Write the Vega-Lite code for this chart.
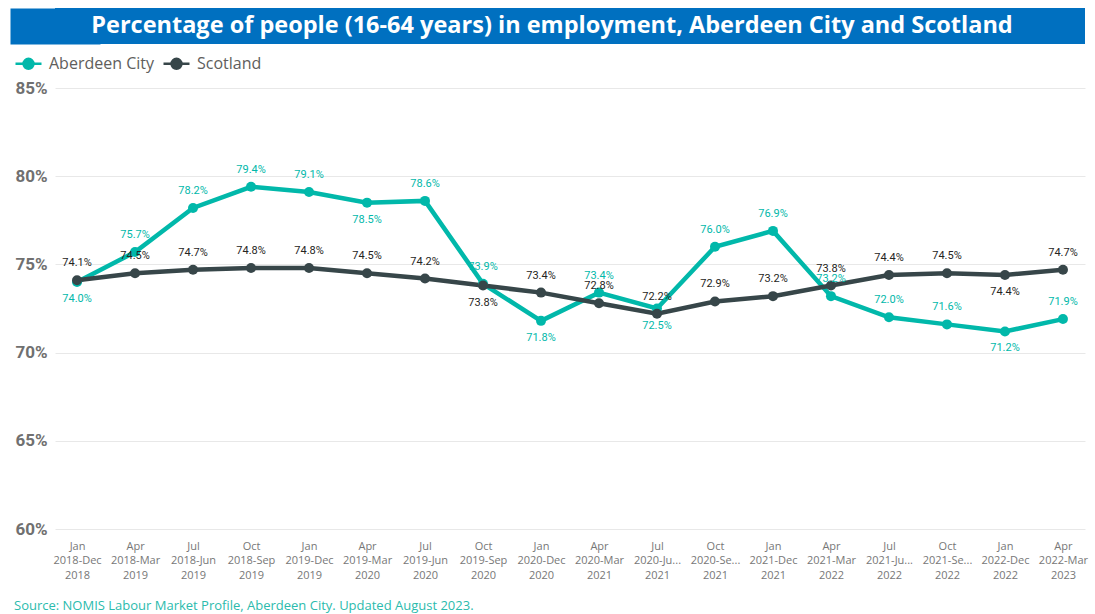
{
  "$schema": "https://vega.github.io/schema/vega-lite/v6.json",
  "padding": {"left": 10, "top": 8, "right": 5, "bottom": 0},
  "background": "white",
  "config": {"view": {"stroke": null}},
  "datasets": {
    "employment": [
      {"period": "Jan 2018-Dec 2018", "area": "Aberdeen City", "value": 74.0},
      {"period": "Apr 2018-Mar 2019", "area": "Aberdeen City", "value": 75.7},
      {"period": "Jul 2018-Jun 2019", "area": "Aberdeen City", "value": 78.2},
      {"period": "Oct 2018-Sep 2019", "area": "Aberdeen City", "value": 79.4},
      {"period": "Jan 2019-Dec 2019", "area": "Aberdeen City", "value": 79.1},
      {"period": "Apr 2019-Mar 2020", "area": "Aberdeen City", "value": 78.5},
      {"period": "Jul 2019-Jun 2020", "area": "Aberdeen City", "value": 78.6},
      {"period": "Oct 2019-Sep 2020", "area": "Aberdeen City", "value": 73.9},
      {"period": "Jan 2020-Dec 2020", "area": "Aberdeen City", "value": 71.8},
      {"period": "Apr 2020-Mar 2021", "area": "Aberdeen City", "value": 73.4},
      {"period": "Jul 2020-Ju... 2021", "area": "Aberdeen City", "value": 72.5},
      {"period": "Oct 2020-Se... 2021", "area": "Aberdeen City", "value": 76.0},
      {"period": "Jan 2021-Dec 2021", "area": "Aberdeen City", "value": 76.9},
      {"period": "Apr 2021-Mar 2022", "area": "Aberdeen City", "value": 73.2},
      {"period": "Jul 2021-Ju... 2022", "area": "Aberdeen City", "value": 72.0},
      {"period": "Oct 2021-Se... 2022", "area": "Aberdeen City", "value": 71.6},
      {"period": "Jan 2022-Dec 2022", "area": "Aberdeen City", "value": 71.2},
      {"period": "Apr 2022-Mar 2023", "area": "Aberdeen City", "value": 71.9},
      {"period": "Jan 2018-Dec 2018", "area": "Scotland", "value": 74.1},
      {"period": "Apr 2018-Mar 2019", "area": "Scotland", "value": 74.5},
      {"period": "Jul 2018-Jun 2019", "area": "Scotland", "value": 74.7},
      {"period": "Oct 2018-Sep 2019", "area": "Scotland", "value": 74.8},
      {"period": "Jan 2019-Dec 2019", "area": "Scotland", "value": 74.8},
      {"period": "Apr 2019-Mar 2020", "area": "Scotland", "value": 74.5},
      {"period": "Jul 2019-Jun 2020", "area": "Scotland", "value": 74.2},
      {"period": "Oct 2019-Sep 2020", "area": "Scotland", "value": 73.8},
      {"period": "Jan 2020-Dec 2020", "area": "Scotland", "value": 73.4},
      {"period": "Apr 2020-Mar 2021", "area": "Scotland", "value": 72.8},
      {"period": "Jul 2020-Ju... 2021", "area": "Scotland", "value": 72.2},
      {"period": "Oct 2020-Se... 2021", "area": "Scotland", "value": 72.9},
      {"period": "Jan 2021-Dec 2021", "area": "Scotland", "value": 73.2},
      {"period": "Apr 2021-Mar 2022", "area": "Scotland", "value": 73.8},
      {"period": "Jul 2021-Ju... 2022", "area": "Scotland", "value": 74.4},
      {"period": "Oct 2021-Se... 2022", "area": "Scotland", "value": 74.5},
      {"period": "Jan 2022-Dec 2022", "area": "Scotland", "value": 74.4},
      {"period": "Apr 2022-Mar 2023", "area": "Scotland", "value": 74.7}
    ]
  },
  "columns": 1,
  "align": "none",
  "spacing": 5,
  "resolve": {"scale": {"color": "independent"}, "legend": {"color": "independent"}},
  "concat": [
    {
      "width": 1030,
      "height": 36,
      "view": {"fill": "#0070C0", "stroke": null},
      "data": {"values": [{"title": "Percentage of people (16-64 years) in employment, Aberdeen City and Scotland"}]},
      "mark": {"type": "text", "font": "Open Sans", "fontWeight": "bold", "fontSize": 23.5, "color": "white", "align": "center", "baseline": "middle", "dx": -18},
      "encoding": {
        "text": {"field": "title", "type": "nominal"},
        "y": {
          "field": "title",
          "type": "nominal",
          "scale": {"paddingInner": 0, "paddingOuter": 0},
          "axis": {"title": null, "labels": false, "ticks": false, "grid": false, "domain": true, "domainColor": "#0070C0", "domainWidth": 90, "domainCap": "butt", "offset": 0}
        }
      }
    },
    {
      "width": 1030,
      "height": 441,
      "data": {"name": "employment"},
      "title": {
        "text": "Source: NOMIS Labour Market Profile, Aberdeen City.  Updated August 2023.",
        "orient": "bottom",
        "anchor": "start",
        "font": "Open Sans",
        "fontSize": 13,
        "fontWeight": "normal",
        "color": "#2BBBAD",
        "offset": 20,
        "dx": 4
      },
      "encoding": {
        "x": {
          "field": "period",
          "type": "ordinal",
          "sort": null,
          "scale": {"type": "point", "padding": 0.38},
          "axis": {
            "title": null,
            "labelExpr": "split(datum.label, ' ')",
            "labelAngle": 0,
            "labelFont": "Open Sans",
            "labelFontSize": 11,
            "labelColor": "#777777",
            "labelPadding": 11,
            "labelLineHeight": 14.5,
            "ticks": false,
            "domain": false,
            "grid": false
          }
        },
        "y": {
          "field": "value",
          "type": "quantitative",
          "scale": {"domain": [60, 85], "nice": false, "zero": false},
          "axis": {
            "title": null,
            "values": [60, 65, 70, 75, 80, 85],
            "labelExpr": "datum.value + '%'",
            "labelFont": "Roboto",
            "labelFontWeight": "bold",
            "labelFontSize": 17,
            "labelColor": "#707070",
            "labelPadding": 8,
            "minExtent": 45,
            "maxExtent": 45,
            "ticks": false,
            "domain": false,
            "grid": true,
            "gridColor": "#E8E8E8",
            "gridWidth": 1
          }
        },
        "color": {
          "field": "area",
          "type": "nominal",
          "scale": {"domain": ["Aberdeen City", "Scotland"], "range": ["#01B8AA", "#374649"]},
          "legend": {
            "title": null,
            "orient": "none",
            "legendX": -41,
            "legendY": -39,
            "direction": "horizontal",
            "labelFont": "Open Sans",
            "labelFontSize": 16,
            "labelColor": "#605E5C",
            "labelOffset": 6,
            "columnPadding": 4,
            "symbolType": "M-1,0L1,0M0.38,0A0.38,0.38,0,1,1,-0.38,0A0.38,0.38,0,1,1,0.38,0Z",
            "symbolSize": 676,
            "symbolStrokeWidth": 2.5,
            "encode": {
              "symbols": {
                "update": {
                  "fill": {"scale": "color", "field": "value"},
                  "stroke": {"scale": "color", "field": "value"},
                  "opacity": {"value": 1}
                }
              }
            }
          }
        }
      },
      "layer": [
        {"mark": {"type": "line", "strokeWidth": 4.5}},
        {"mark": {"type": "point", "filled": true, "size": 100, "opacity": 1}},
        {
          "transform": [
            {"filter": "!((datum.area === 'Aberdeen City' && indexof(['Jan 2018-Dec 2018','Apr 2019-Mar 2020','Jan 2020-Dec 2020','Jul 2020-Ju... 2021','Jan 2022-Dec 2022'], datum.period) >= 0) || (datum.area === 'Scotland' && indexof(['Oct 2019-Sep 2020','Jan 2022-Dec 2022'], datum.period) >= 0))"},
            {"calculate": "format(datum.value, '.1f') + '%'", "as": "label"}
          ],
          "mark": {"type": "text", "dy": -17, "font": "Roboto", "fontSize": 11, "baseline": "middle"},
          "encoding": {
            "text": {"field": "label", "type": "nominal"},
            "color": {"condition": {"test": "datum.area === 'Aberdeen City'", "value": "#01B8AA"}, "value": "#252423"}
          }
        },
        {
          "transform": [
            {"filter": "(datum.area === 'Aberdeen City' && indexof(['Jan 2018-Dec 2018','Apr 2019-Mar 2020','Jan 2020-Dec 2020','Jul 2020-Ju... 2021','Jan 2022-Dec 2022'], datum.period) >= 0) || (datum.area === 'Scotland' && indexof(['Oct 2019-Sep 2020','Jan 2022-Dec 2022'], datum.period) >= 0)"},
            {"calculate": "format(datum.value, '.1f') + '%'", "as": "label"}
          ],
          "mark": {"type": "text", "dy": 17, "font": "Roboto", "fontSize": 11, "baseline": "middle"},
          "encoding": {
            "text": {"field": "label", "type": "nominal"},
            "color": {"condition": {"test": "datum.area === 'Aberdeen City'", "value": "#01B8AA"}, "value": "#252423"}
          }
        }
      ]
    }
  ]
}
